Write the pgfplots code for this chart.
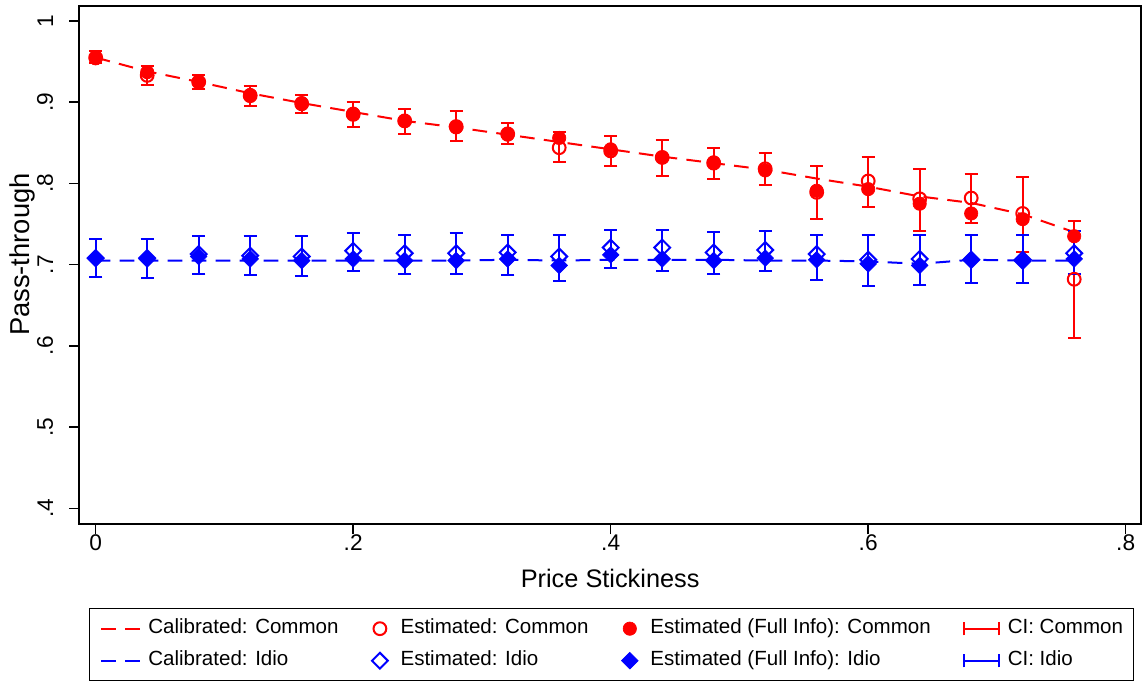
\documentclass[border=0pt]{standalone}
\usepackage{fontspec}
\setmainfont{Liberation Sans}
\usepackage{pgfplots}
\pgfplotsset{compat=1.18}
\usepackage{pgfplotstable}

\pgfplotstableread{
x    calC estC fullC loC  hiC  calI estI fullI loI  hiI
0.00 .955 .955 .954 .948 .963 .705 .708 .708 .685 .731
0.04 .938 .933 .937 .921 .945 .705 .708 .707 .684 .731
0.08 .925 .925 .925 .916 .933 .705 .713 .710 .689 .735
0.12 .911 .908 .909 .895 .920 .705 .711 .707 .687 .735
0.16 .899 .898 .899 .887 .909 .705 .710 .705 .686 .735
0.20 .888 .885 .886 .870 .900 .705 .717 .707 .692 .739
0.24 .877 .877 .877 .861 .892 .705 .714 .705 .689 .737
0.28 .869 .870 .869 .852 .889 .705 .714 .705 .688 .739
0.32 .860 .861 .860 .849 .874 .706 .715 .707 .687 .737
0.36 .851 .844 .856 .826 .863 .705 .710 .699 .680 .737
0.40 .842 .840 .842 .821 .858 .706 .721 .712 .696 .743
0.44 .833 .832 .832 .809 .854 .706 .721 .707 .692 .743
0.48 .825 .825 .826 .805 .844 .706 .715 .705 .688 .740
0.52 .817 .818 .816 .798 .837 .705 .718 .708 .692 .742
0.56 .806 .789 .791 .756 .822 .705 .713 .706 .681 .736
0.60 .796 .803 .793 .771 .833 .704 .706 .701 .674 .736
0.64 .784 .781 .775 .742 .818 .701 .707 .699 .675 .736
0.68 .776 .782 .763 .751 .812 .706 .706 .706 .677 .737
0.72 .762 .763 .756 .715 .808 .705 .706 .704 .677 .736
0.76 .740 .682 .735 .610 .754 .705 .714 .707 .689 .742
}\data

\definecolor{sred}{RGB}{255,0,0}
\definecolor{sblue}{RGB}{0,0,255}

\begin{document}
\begin{tikzpicture}
\begin{axis}[
  scale only axis, width=796.25pt, height=388.9pt,
  xmin=-0.0127, xmax=0.8119, ymin=0.3803, ymax=1.0188,
  xtick={0,0.2,0.4,0.6,0.8}, xticklabels={0,.2,.4,.6,.8},
  ytick={0.4,0.5,0.6,0.7,0.8,0.9,1}, yticklabels={.4,.5,.6,.7,.8,.9,1},
  tick align=outside, major tick length=7.5pt,
  tick style={black, line width=1.1pt},
  xtick pos=bottom, ytick pos=left,
  axis line style={line width=1.25pt},
  x tick label style={font=\fontsize{17}{20}\selectfont, inner sep=0pt, anchor=north},
  y tick label style={font=\fontsize{17}{20}\selectfont, rotate=90, inner xsep=0pt, inner ysep=12pt, anchor=south},
  xlabel={Price Stickiness},
  ylabel={Pass-through},
  xlabel style={font=\fontsize{19}{22}\selectfont, at={(axis description cs:0.5,-0.104)}, anchor=center},
  ylabel style={font=\fontsize{20.5}{24}\selectfont, at={(axis description cs:-0.054,0.52)}, anchor=center},
  legend columns=4,
  legend cell align=left,
  legend style={at={(axis description cs:0.5013,-0.1615)}, anchor=north,
    draw=black, line width=1pt, inner xsep=8pt, inner ysep=3pt,
    font=\fontsize{15.4}{18}\selectfont,
    nodes={inner xsep=0pt, inner ysep=4.75pt, text height=11pt, text depth=3.5pt},
    column sep=0pt,
    /tikz/every even column/.append style={column sep=24.5pt}},
]
% calibrated lines
\addplot[sred, line width=1.5pt, dash pattern=on 11pt off 7pt, forget plot] table[x=x,y=calC]{\data};
\addplot[sblue, line width=1.5pt, dash pattern=on 11pt off 7pt, forget plot] table[x=x,y=calI]{\data};
% confidence intervals
\addplot[draw=none, mark=none, forget plot,
  error bars/.cd, y dir=both, y explicit, error mark=|,
  error bar style={draw=sred, solid, line width=1.5pt},
  error mark options={draw=sred, solid, mark size=5pt, line width=1.5pt}]
  table[x=x, y expr={(\thisrow{loC}+\thisrow{hiC})/2}, y error expr={(\thisrow{hiC}-\thisrow{loC})/2}]{\data};
\addplot[draw=none, mark=none, forget plot,
  error bars/.cd, y dir=both, y explicit, error mark=|,
  error bar style={draw=sblue, solid, line width=1.5pt},
  error mark options={draw=sblue, solid, mark size=5pt, line width=1.5pt}]
  table[x=x, y expr={(\thisrow{loI}+\thisrow{hiI})/2}, y error expr={(\thisrow{hiI}-\thisrow{loI})/2}]{\data};
% estimated
\addplot[only marks, forget plot, mark=o, mark size=4.8pt, mark options={draw=sred, solid, line width=1.5pt}] table[x=x,y=estC]{\data};
\addplot[only marks, forget plot, mark=square, mark size=4.2pt, mark options={draw=sblue, rotate=45, solid, line width=1.5pt}] table[x=x,y=estI]{\data};
% full info
\addplot[only marks, forget plot, mark=*, mark size=5pt, mark options={draw=sred, fill=sred, solid, line width=0.5pt}] table[x=x,y=fullC]{\data};
\addplot[only marks, forget plot, mark=square*, mark size=4.4pt, mark options={draw=sblue, fill=sblue, rotate=45, solid, line width=0.5pt}] table[x=x,y=fullI]{\data};

% legend
\addlegendimage{legend image code/.code={\draw[sred, line width=1.5pt, dash pattern=on 11pt off 7pt] (0pt,0pt)--(29pt,0pt); \path (35pt,0pt);}}
\addlegendentry{Calibrated: Common}
\addlegendimage{legend image code/.code={\draw[sred, line width=1.5pt, solid, mark=o, mark size=4.8pt] plot coordinates {(6pt,0pt)}; \path (0pt,0pt) (21pt,0pt);}}
\addlegendentry{Estimated: Common}
\addlegendimage{legend image code/.code={\draw[sred, fill=sred, line width=0.5pt, solid, mark=*, mark size=5pt] plot coordinates {(6pt,0pt)}; \path (0pt,0pt) (21pt,0pt);}}
\addlegendentry{Estimated (Full Info): Common}
\addlegendimage{legend image code/.code={\draw[sred, line width=1.5pt, solid] (0pt,-5pt)--(0pt,5pt) (0pt,0pt)--(26pt,0pt) (26pt,-5pt)--(26pt,5pt); \path (32pt,0pt);}}
\addlegendentry{CI: Common}
\addlegendimage{legend image code/.code={\draw[sblue, line width=1.5pt, dash pattern=on 11pt off 7pt] (0pt,0pt)--(29pt,0pt); \path (35pt,0pt);}}
\addlegendentry{Calibrated: Idio}
\addlegendimage{legend image code/.code={\draw[sblue, line width=1.5pt, solid, mark=square, mark size=4.2pt, mark options={rotate=45}] plot coordinates {(6pt,0pt)}; \path (0pt,0pt) (21pt,0pt);}}
\addlegendentry{Estimated: Idio}
\addlegendimage{legend image code/.code={\draw[sblue, fill=sblue, line width=0.5pt, solid, mark=square*, mark size=4.4pt, mark options={rotate=45}] plot coordinates {(6pt,0pt)}; \path (0pt,0pt) (21pt,0pt);}}
\addlegendentry{Estimated (Full Info): Idio}
\addlegendimage{legend image code/.code={\draw[sblue, line width=1.5pt, solid] (0pt,-5pt)--(0pt,5pt) (0pt,0pt)--(26pt,0pt) (26pt,-5pt)--(26pt,5pt); \path (32pt,0pt);}}
\addlegendentry{CI: Idio}
\end{axis}
\pgfresetboundingbox
\path (-59.5pt,-121.3pt) rectangle (797.75pt,393.2pt);
\end{tikzpicture}
\end{document}
